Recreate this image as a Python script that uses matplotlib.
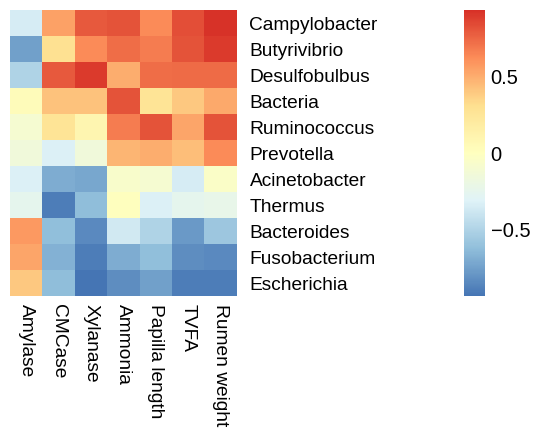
import numpy as np
import matplotlib
matplotlib.use("Agg")
import matplotlib.pyplot as plt
from matplotlib.colors import LinearSegmentedColormap

plt.rcParams['font.family'] = ['Liberation Sans', 'DejaVu Sans']

genera = ["Campylobacter", "Butyrivibrio", "Desulfobulbus", "Bacteria", "Ruminococcus",
          "Prevotella", "Acinetobacter", "Thermus", "Bacteroides", "Fusobacterium", "Escherichia"]
traits = ["Amylase", "CMCase", "Xylanase", "Ammonia", "Papilla length", "TVFA", "Rumen weight"]

campylobacter = [-0.35, 0.55, 0.80, 0.82, 0.63, 0.83, 0.93]
butyrivibrio = [-0.75, 0.30, 0.63, 0.73, 0.68, 0.82, 0.90]
desulfobulbus = [-0.50, 0.80, 0.90, 0.50, 0.73, 0.74, 0.74]
bacteria = [0.03, 0.42, 0.42, 0.82, 0.27, 0.40, 0.52]
ruminococcus = [-0.10, 0.27, 0.10, 0.68, 0.82, 0.53, 0.82]
prevotella = [-0.15, -0.33, -0.15, 0.47, 0.50, 0.44, 0.63]
acinetobacter = [-0.33, -0.70, -0.72, -0.07, -0.10, -0.35, -0.05]
thermus = [-0.25, -0.90, -0.63, 0.00, -0.33, -0.25, -0.23]
bacteroides = [0.58, -0.62, -0.85, -0.37, -0.50, -0.78, -0.58]
fusobacterium = [0.53, -0.68, -0.90, -0.70, -0.62, -0.83, -0.85]
escherichia = [0.40, -0.63, -0.94, -0.83, -0.75, -0.90, -0.90]

data = np.array([campylobacter, butyrivibrio, desulfobulbus, bacteria, ruminococcus,
                 prevotella, acinetobacter, thermus, bacteroides, fusobacterium, escherichia])

cmap = LinearSegmentedColormap.from_list(
    "rdylbu", ["#4575B4", "#91BFDB", "#E0F3F8", "#FFFFBF", "#FEE090", "#FC8D59", "#D73027"])

W, H = 534, 434
fig = plt.figure(figsize=(W / 100, H / 100), dpi=100)
ax = fig.add_axes([10 / W, 1 - 296 / H, 227 / W, 286 / H])
im = ax.imshow(data, cmap=cmap, vmin=-0.94, vmax=0.94, aspect='auto', interpolation='nearest')
ax.set_yticks(range(len(genera)))
ax.set_yticklabels(genera, fontsize=13.8)
ax.yaxis.tick_right()
ax.set_xticks(range(len(traits)))
ax.set_xticklabels(traits, fontsize=13.8, rotation=270, va='top', ha='center')
ax.tick_params(axis='y', length=0, pad=9)
ax.tick_params(axis='x', length=0, pad=6)
for s in ax.spines.values():
    s.set_visible(False)

cax = fig.add_axes([464 / W, 1 - 296 / H, 21 / W, 286 / H])
cb = fig.colorbar(im, cax=cax, ticks=[-0.5, 0, 0.5])
cb.ax.set_yticklabels(["\u22120.5", "0", "0.5"], fontsize=14.5)
cb.ax.tick_params(length=0, pad=4)
cb.outline.set_visible(False)

fig.savefig("out.png", dpi=100)
